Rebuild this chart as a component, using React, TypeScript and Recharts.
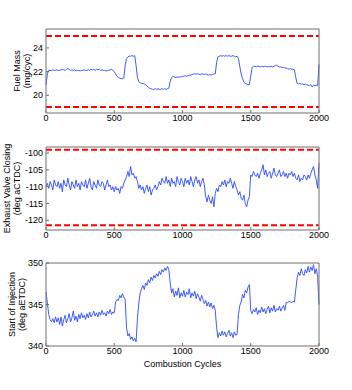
import React from 'react';
import { LineChart, Line, XAxis, YAxis, ReferenceLine } from 'recharts';

// combustion cycle index, one sample every 10 cycles
const CYCLES = Array.from({ length: 201 }, (_, i) => i * 10);
const X_TICKS = [0, 500, 1000, 1500, 2000];

const FUEL_MASS = [
  20.9, 21.8, 22.1, 22.1, 22.1, 22.15, 22.1, 22.1, 22.15, 22.1,
  22.1, 22.15, 22.2, 22.15, 22.1, 22.2, 22.25, 22.2, 22.1, 22.15,
  22.1, 22.15, 22.05, 22.1, 22.1, 22.05, 22.1, 22.1, 22.15, 22.1,
  22.1, 22.15, 22.1, 22.2, 22.15, 22.2, 22.1, 22.2, 22.15, 22.2,
  22.1, 22.15, 22.1, 22.1, 22.05, 22.1, 22.1, 22.15, 22.2, 22.1,
  22.0, 21.8, 21.6, 21.5, 21.45, 21.4, 21.4, 21.45, 22.5, 23.1,
  23.25, 23.3, 23.3, 23.35, 23.3, 23.35, 22.5, 21.5, 21.15, 21.05,
  21.0, 21.0, 20.95, 20.9, 20.8, 20.65, 20.6, 20.55, 20.5, 20.5,
  20.55, 20.5, 20.55, 20.5, 20.5, 20.55, 20.5, 20.55, 20.5, 20.55,
  20.6, 21.2, 21.5, 21.6, 21.55, 21.5, 21.55, 21.5, 21.55, 21.55,
  21.6, 21.6, 21.65, 21.6, 21.65, 21.7, 21.7, 21.75, 21.8, 21.8,
  21.8, 21.8, 21.8, 21.75, 21.8, 21.8, 21.75, 21.8, 21.75, 21.7,
  21.75, 21.7, 21.75, 21.8, 21.8, 22.8, 23.25, 23.3, 23.35, 23.3,
  23.35, 23.3, 23.35, 23.3, 23.35, 23.3, 23.3, 23.35, 23.3, 23.25,
  23.3, 23.1, 22.4, 21.8, 21.4, 21.1, 21.0, 20.95, 20.9, 20.9,
  21.6, 22.35, 22.45, 22.45, 22.4, 22.45, 22.45, 22.4, 22.45, 22.4,
  22.45, 22.45, 22.4, 22.45, 22.4, 22.45, 22.4, 22.45, 22.5, 22.55,
  22.45, 22.4, 22.4, 22.35, 22.35, 22.3, 22.3, 22.25, 22.2, 22.25,
  22.2, 22.2, 22.15, 21.5, 21.0, 20.95, 21.0, 20.95, 20.95, 20.9,
  20.95, 20.9, 20.85, 20.8, 20.9, 20.7, 20.85, 20.8, 20.85, 20.8,
  22.6,
];

const EVC = [
  -110, -109, -110.5, -108.5, -109.5, -111, -108, -109.5, -110, -108.5,
  -110.5, -109, -111.5, -108, -109.5, -110, -107.5, -109.5, -111, -108.5,
  -109.5, -110.5, -108, -110, -109, -111, -108.5, -109.5, -110, -108,
  -110.5, -109, -107.5, -110, -111, -108.5, -109.5, -110.5, -108, -109.5,
  -110, -108.5, -109, -111, -109.5, -108, -110, -109.5, -111, -110,
  -111.5, -110, -111, -110.5, -112, -110, -110.5, -109, -108, -107,
  -105.5, -107, -104, -106.5, -106, -107.5, -107, -108.5, -110.5, -109.5,
  -111, -110, -112, -110.5, -109.5, -111.5, -110, -112.5, -111, -110.5,
  -109.5, -111, -110, -108.5, -109.5, -107.5, -108.5, -109, -107, -109,
  -108, -110, -107.5, -109, -108.5, -110, -107, -108.5, -109.5, -107.5,
  -108.5, -110, -107.5, -109, -108, -109.5, -107, -108.5, -110, -108,
  -107, -109, -108, -110, -108.5, -107.5, -109.5, -113, -114.5, -112.5,
  -114, -115, -113, -116, -112, -110.5, -111.5, -109.5, -110, -108.5,
  -109.5, -108, -110, -108.5, -109, -107.5, -109, -110.5, -108.5, -110,
  -111, -112.5, -111.5, -113.5, -114, -112.5, -115, -116, -114, -113,
  -106.5, -107, -105.5, -106.5, -107, -106, -107.5, -106, -105, -103.5,
  -106.5, -105, -107, -106, -105.5, -107.5, -106, -104.5, -106.5, -107,
  -106, -105, -107, -106.5, -105.5, -107, -106, -107.5, -106, -106.5,
  -105.5, -107, -106, -107.5, -108, -106.5, -108.5, -107.5, -108, -106.5,
  -107, -108, -106.5, -107.5, -106, -105, -104, -106.5, -108, -110.5,
  -103,
];

const SOI = [
  346.5, 345.2, 343.8, 343.2, 342.9, 343.3, 342.8, 343.5, 342.9, 343.4,
  342.6, 343.5, 342.4, 343.2, 343.7, 342.8, 343.3, 343.9, 342.9, 343.4,
  344.2, 343.1, 343.6, 342.9, 343.8, 343.3, 344.0, 343.4, 343.7, 343.2,
  343.9, 343.4, 344.1, 343.5, 343.8, 344.2, 343.6, 344.0, 343.5, 344.1,
  343.7, 344.3, 343.8, 344.0, 343.6, 344.2, 343.9, 344.4, 343.8, 344.1,
  344.0, 345.3, 345.6, 345.5, 346.1, 345.8, 346.3, 345.9, 345.6, 342.2,
  341.2, 341.5, 340.8, 341.1, 340.6, 340.9, 340.5, 343.4, 345.2, 346.4,
  346.9, 347.3, 346.8, 347.6, 347.3, 348.0, 347.6, 348.3, 347.9, 348.5,
  348.2, 348.7, 348.4, 349.0, 348.6, 349.2, 348.9, 349.4, 349.1, 349.6,
  349.2, 347.6, 346.4, 346.9, 345.9, 346.6, 346.1, 347.0, 345.8, 346.4,
  346.0, 346.7, 345.9, 346.5, 346.2, 346.9, 345.8, 346.4, 346.0, 346.6,
  345.7, 346.3, 345.9, 345.4, 346.1, 345.6, 345.1, 345.5, 344.8, 345.3,
  344.7, 345.2, 344.5, 344.9, 344.3, 342.2, 341.0, 341.6, 341.2, 341.8,
  341.3, 341.7, 341.1, 341.5, 341.9, 341.2, 341.6, 341.0, 341.7, 341.3,
  341.4, 343.8, 344.9, 345.3, 346.2, 345.8, 346.7, 346.4, 347.1, 347.4,
  344.3, 343.9, 344.4, 344.1, 344.6, 343.8, 344.3, 344.0, 344.7, 344.1,
  344.5, 343.9, 344.4, 344.8, 344.0, 344.6, 344.2, 344.9, 344.1, 344.5,
  344.3, 344.8, 344.2, 344.6, 344.9, 344.3, 345.3, 345.2, 345.4, 345.3,
  345.2, 345.4, 345.3, 346.8, 348.2, 348.9, 348.5, 349.3, 348.7, 348.5,
  349.2, 348.8, 349.6, 348.9, 349.5, 349.1, 349.8, 348.7, 349.3, 348.4,
  345.0,
];

const FUEL_TICKS = [20, 22, 24];
const EVC_TICKS = [-120, -115, -110, -105, -100];
const SOI_TICKS = [340, 345, 350];
const FUEL_LIMITS = [25, 19];
const EVC_LIMITS = [-99, -121.5];

const FONT = '"Liberation Sans", Arial, sans-serif';
const FRAME = '#6e6e6e';
const tickStyle = { fill: '#000', fontSize: 9, fontFamily: FONT };

const yLabel = (lines: string[], xs: number[], cy: number) => () => (
  <g>
    {lines.map((t, i) => (
      <text key={t} transform={`translate(${xs[i]},${cy}) rotate(-90)`} textAnchor="middle"
        fontSize={9} fontFamily={FONT} fill="#000">{t}</text>
    ))}
  </g>
);

interface Props {
  top: number;
  height: number;
  margin: { top: number; right: number; bottom: number; left: number };
  values: number[];
  domain: [number, number];
  yTicks: number[];
  limits: number[];
  label: () => React.ReactElement;
  xAxisHeight: number;
  xTitle?: boolean;
}

function Panel({ top, height, margin, values, domain, yTicks, limits, label, xAxisHeight, xTitle }: Props) {
  const data = CYCLES.map((c, i) => ({ cycle: c, v: values[i] }));
  return (
    <div style={{ position: 'absolute', left: 0, top }}>
      <LineChart width={352} height={height} data={data} margin={margin}>
        <XAxis xAxisId="b" dataKey="cycle" type="number" domain={[0, 2000]} ticks={X_TICKS} interval={0}
          height={xAxisHeight} tick={tickStyle} tickSize={-3} tickMargin={5}
          axisLine={{ stroke: FRAME }} tickLine={{ stroke: FRAME }}
          label={xTitle ? { value: 'Combustion Cycles', position: 'insideBottom', offset: 9, fontSize: 9, fontFamily: FONT, fill: '#000' } : undefined} />
        <XAxis xAxisId="t" orientation="top" dataKey="cycle" type="number" domain={[0, 2000]} ticks={X_TICKS}
          height={1} tick={false} tickSize={-3} axisLine={{ stroke: FRAME }} tickLine={{ stroke: FRAME }} />
        <YAxis yAxisId="l" type="number" domain={domain} allowDataOverflow ticks={yTicks} interval={0}
          width={46} tick={tickStyle} tickSize={-3} tickMargin={6}
          axisLine={{ stroke: FRAME }} tickLine={{ stroke: FRAME }} label={{ content: label }} />
        <YAxis yAxisId="r" orientation="right" type="number" domain={domain} allowDataOverflow ticks={yTicks}
          width={1} tick={false} tickSize={-3} axisLine={{ stroke: FRAME }} tickLine={{ stroke: FRAME }} />
        {limits.map(y => (
          <ReferenceLine key={y} xAxisId="b" yAxisId="l" y={y} stroke="#ff0000" strokeWidth={2} strokeDasharray="6 3" />
        ))}
        <Line xAxisId="b" yAxisId="l" type="linear" dataKey="v" stroke="#2a48ff" strokeWidth={0.9}
          dot={false} isAnimationActive={false} />
      </LineChart>
    </div>
  );
}

export default function App() {
  return (
    <div style={{ position: 'absolute', left: 0, top: 0, width: 352, height: 390, background: '#fff' }}>
      <Panel top={0} height={130} margin={{ top: 28, right: 32, bottom: 0, left: 0 }}
        values={FUEL_MASS} domain={[18.5, 25.6]} yTicks={FUEL_TICKS} limits={FUEL_LIMITS}
        label={yLabel(['Fuel Mass', '(mg/cyc)'], [20, 29.5], 71)} xAxisHeight={17} />
      <Panel top={130} height={130} margin={{ top: 16, right: 32, bottom: 13, left: 0 }}
        values={EVC} domain={[-122.9, -98.2]} yTicks={EVC_TICKS} limits={EVC_LIMITS}
        label={yLabel(['Exhaust Valve Closing', '(deg aCTDC)'], [10, 20], 58.5)} xAxisHeight={17} />
      <Panel top={250} height={140} margin={{ top: 12, right: 32, bottom: 14, left: 0 }}
        values={SOI} domain={[340, 350]} yTicks={SOI_TICKS} limits={[]}
        label={yLabel(['Start of Injection', '(deg aETDC)'], [15, 25], 54.5)} xAxisHeight={30} xTitle />
    </div>
  );
}
